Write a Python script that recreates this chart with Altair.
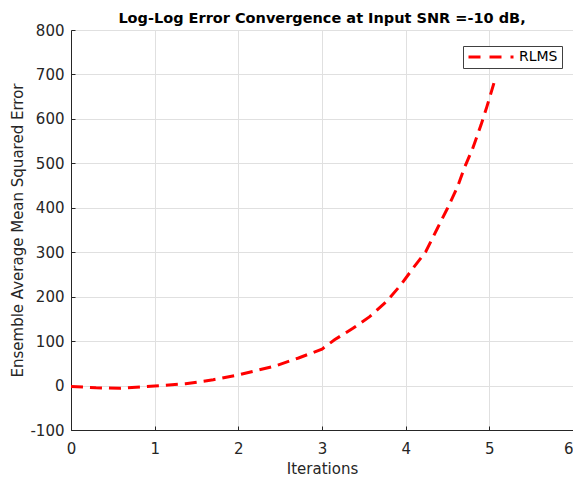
import altair as alt
import pandas as pd

# Data
iterations = [0, 0.3, 0.58, 1.0, 1.37, 1.7, 2.0, 2.44, 2.72, 3.0, 3.15, 3.37, 3.57,
              3.77, 3.94, 4.1, 4.24, 4.38, 4.5, 4.62, 4.7, 4.8, 4.9, 4.97, 5.07]
mse = [-2, -5, -6, -1, 4, 13, 24, 44, 62, 82, 103, 129, 155,
       189, 226, 267, 301, 354, 399, 447, 489, 533, 586, 627, 690]
series = ["RLMS"] * len(iterations)

x_ticks = [0, 1, 2, 3, 4, 5, 6]
y_ticks = [-100, 0, 100, 200, 300, 400, 500, 600, 700, 800]

df = pd.DataFrame({"Iterations": iterations, "MSE": mse, "Series": series})

FONT = "DejaVu Sans"
AX = "#262626"
xscale = alt.Scale(domain=[0, 6], nice=False, zero=False)
yscale = alt.Scale(domain=[-100, 800], nice=False, zero=False)

main = alt.Chart(df).mark_line(
    strokeWidth=3, strokeDash=[12, 7], clip=True
).encode(
    x=alt.X("Iterations:Q", scale=xscale,
            axis=alt.Axis(values=x_ticks, title="Iterations", labelExpr="datum.value",
                          orient="bottom", labelFlush=False,
                          labelAlign={"condition": {"test": "datum.value == 6", "value": "right"},
                                      "value": "center"},
                          ticks=False, labelPadding=11, titlePadding=5)),
    y=alt.Y("MSE:Q", scale=yscale,
            axis=alt.Axis(values=y_ticks, title="Ensemble Average Mean Squared Error",
                          orient="left", labelExpr="datum.value", labelFlush=False,
                          ticks=False, labelPadding=7, titlePadding=4)),
    color=alt.Color("Series:N",
                    scale=alt.Scale(domain=["RLMS"], range=["#ff0000"]),
                    legend=alt.Legend(title=None, orient="none", legendX=392, legendY=16,
                                      symbolType="stroke", symbolSize=2025, clipHeight=14,
                                      symbolStrokeWidth=3, symbolDash=[12, 9],
                                      labelFontSize=14, labelFont=FONT, labelColor="#000000",
                                      labelOffset=4, padding=4, strokeColor="#404040",
                                      fillColor="#ffffff")),
)

# invisible layer that only carries inward tick marks
ticks_layer = alt.Chart(df).mark_line(opacity=0).encode(
    x=alt.X("Iterations:Q", scale=xscale,
            axis=alt.Axis(values=x_ticks, title=None, orient="bottom", labels=False,
                          domain=False, grid=False, tickSize=4, offset=-4)),
    y=alt.Y("MSE:Q", scale=yscale,
            axis=alt.Axis(values=y_ticks, title=None, orient="left", labels=False,
                          domain=False, grid=False, tickSize=4, offset=-4)),
)

chart = alt.layer(main, ticks_layer).resolve_scale(
    x="independent", y="independent"
).properties(
    width=502,
    height=400,
    title=alt.TitleParams("Log-Log Error Convergence at Input SNR =-10 dB,",
                          font=FONT, fontSize=14.5, fontWeight="bold", color="#000000",
                          anchor="middle", frame="group", offset=-3),
    autosize=alt.AutoSizeParams(type="none"),
    padding={"left": 63, "top": 22, "right": 0, "bottom": 49},
).configure_view(
    stroke=None
).configure_axis(
    domainColor=AX, domainWidth=1, tickColor=AX, tickWidth=1,
    gridColor="#e0e0e0", gridWidth=1, gridOpacity=1,
    labelFont=FONT, labelFontSize=15, labelColor=AX,
    titleFont=FONT, titleFontSize=15, titleFontWeight="normal", titleColor=AX,
)

chart.save("out.html", embed_options={"renderer": "svg", "actions": False})
